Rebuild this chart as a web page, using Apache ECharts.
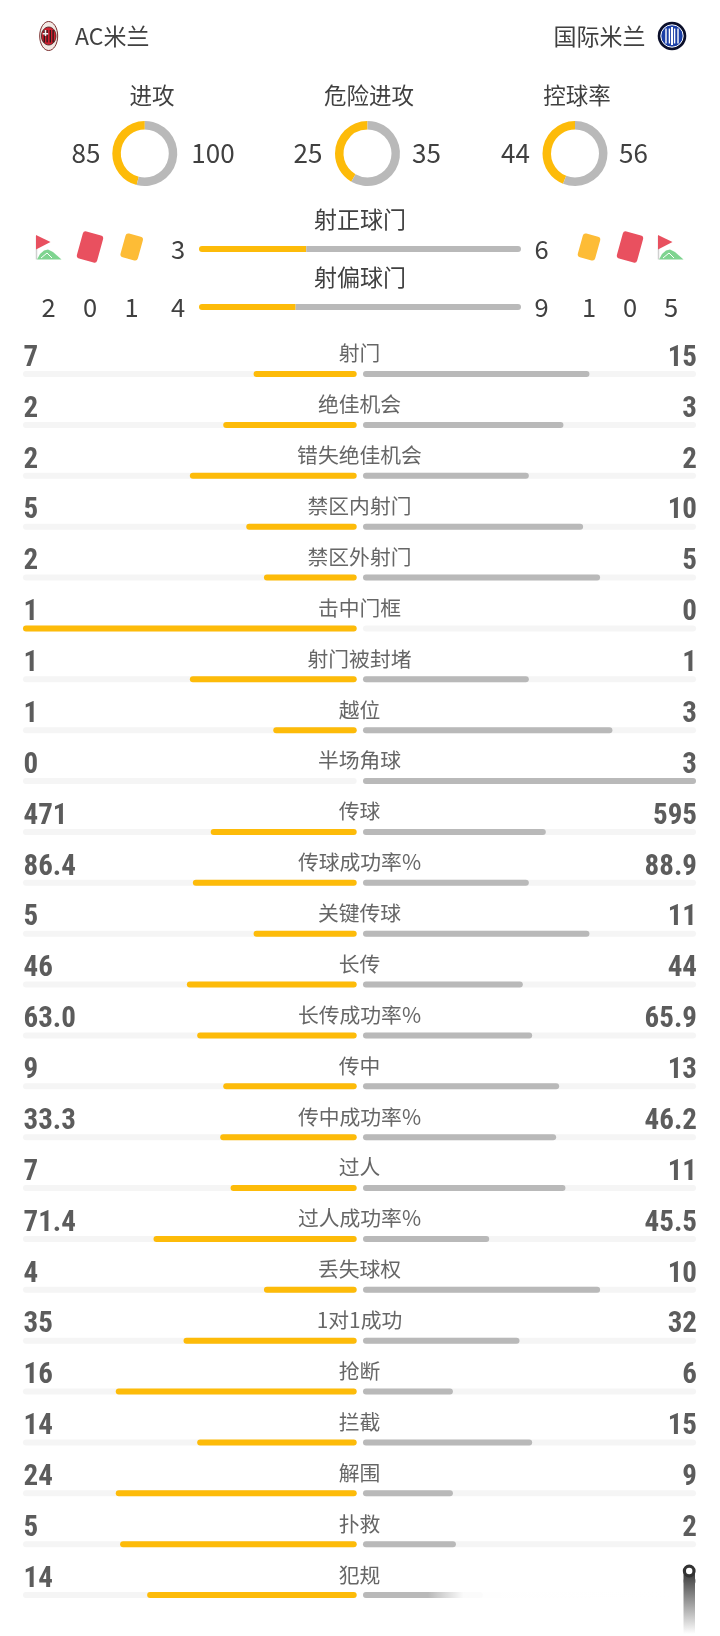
<!DOCTYPE html>
<html><head><meta charset="utf-8">
<style>html,body{margin:0;padding:0;background:#fff}#c{width:720px;height:1636px}</style>
<script src="https://cdn.jsdelivr.net/npm/echarts@6/dist/echarts.min.js"></script>
</head><body><div id="c"></div>
<script>
const teams = ['AC米兰', '国际米兰'];
const statNames = ['射门','绝佳机会','错失绝佳机会','禁区内射门','禁区外射门','击中门框','射门被封堵','越位','半场角球','传球','传球成功率%','关键传球','长传','长传成功率%','传中','传中成功率%','过人','过人成功率%','丢失球权','1对1成功','抢断','拦截','解围','扑救','犯规'];
const homeLabels = ['7','2','2','5','2','1','1','1','0','471','86.4','5','46','63.0','9','33.3','7','71.4','4','35','16','14','24','5','14'];
const awayLabels = ['15','3','2','10','5','0','1','3','3','595','88.9','11','44','65.9','13','46.2','11','45.5','10','32','6','15','9','2','8'];
const homeBar = [.309,.400,.500,.331,.278,1,.500,.250,0,.4375,.491,.309,.509,.478,.400,.409,.378,.609,.278,.519,.722,.478,.722,.709,.628];
const awayBar = [.680,.602,.498,.661,.712,0,.498,.749,1,.549,.498,.680,.480,.508,.589,.580,.608,.379,.712,.470,.270,.508,.270,.279,.360];
const donutNames = ['进攻','危险进攻','控球率'];
const donutHome = [85,25,44];
const donutAway = [100,35,56];
const shotNames = ['射正球门','射偏球门'];
const shotHome = [3,4];
const shotAway = [6,9];
const shotHomeBar = [.333,.300];
const shotAwayBar = [.667,.700];
const cornerHome = 2, redHome = 0, yellowHome = 1;
const yellowAway = 1, redAway = 0, cornerAway = 5;

const YELLOW='#FDBB09', GREY='#B9B9B9', TRACK='#F5F5F5', TEXT='#404040';
const CJK='"Noto Sans CJK SC","Noto Sans",sans-serif';
const NUM='"Liberation Sans Narrow","Roboto Condensed",sans-serif';
const idx = statNames.map((_,i)=>i);

const PITCH=50.88, ROW0=374, ROWS=statNames.length;
const gridTop=ROW0-PITCH/2, gridH=PITCH*ROWS;
const catAxis=(gi)=>({type:'category',gridIndex:gi,data:idx,inverse:true,show:false});
const valAxis=(gi,inv)=>({type:'value',gridIndex:gi,min:0,max:1,inverse:!!inv,show:false});
const hiddenText=(name,gi,lab,xv,align,font,size,weight,color)=>({
  type:'scatter',name,xAxisIndex:gi,yAxisIndex:gi,symbolSize:1,silent:true,z:3,
  itemStyle:{color:'rgba(0,0,0,0)'},
  data:lab.map((t,i)=>({value:[xv,i],txt:t})),
  label:{show:true,position:'inside',align,verticalAlign:'middle',formatter:p=>p.data.txt,
    fontFamily:font,fontSize:size,fontWeight:weight,color:color||TEXT}
});
const track=(color,data,gi)=>({type:'bar',xAxisIndex:gi,yAxisIndex:gi,barWidth:6,silent:true,data,
  itemStyle:{color,borderRadius:3},showBackground:true,backgroundStyle:{color:TRACK,borderRadius:3}});

const pies=donutNames.map((n,i)=>({type:'pie',silent:true,center:[[144.8,367.5,575][i],153.5],radius:[24,32.5],
  startAngle:90,clockwise:false,label:{show:false},labelLine:{show:false},
  data:[{value:donutHome[i],itemStyle:{color:YELLOW}},{value:donutAway[i],itemStyle:{color:GREY}}]}));

const text=(t,x,y,size,align,extra)=>Object.assign({type:'text',x,y,z:5,silent:true,
  style:{text:String(t),fontSize:size,fontFamily:CJK,fill:TEXT,align:align||'center',verticalAlign:'middle'}},extra||{});
const g=[];
g.push(text(teams[0],75,36,23,'left'));
g.push(text(teams[1],645.5,36,23,'right'));
[152,369,577].forEach((x,i)=>{
  g.push(text(donutNames[i],x,95,22.5));
  g.push(text(donutHome[i],[86,308,515.5][i],153,26));
  g.push(text(donutAway[i],[213,426.5,633.5][i],153,26));
});
shotNames.forEach((n,i)=>g.push(text(n,360,[219.5,277.5][i],23)));
[[shotHome[0],178,249],[shotAway[0],541.6,249],[shotHome[1],178,307],[shotAway[1],541.6,307],
 [cornerHome,48.7,307],[redHome,90,307],[yellowHome,131.7,307],
 [yellowAway,589,307],[redAway,630,307],[cornerAway,671,307]]
 .forEach(a=>g.push(text(a[0],a[1],a[2],25.5)));
// cards and corner flags
const card=(cx,cy,w,h,fill)=>({type:'rect',x:cx,y:cy,rotation:-0.27,z:5,silent:true,
  shape:{x:-w/2,y:-h/2,width:w,height:h,r:3},style:{fill}});
const flag=(dx)=>[
 {type:'line',z:5,silent:true,shape:{x1:36.5+dx,y1:236,x2:36.5+dx,y2:259.5},style:{stroke:'#d0d0d0',lineWidth:1.5}},
 {type:'polygon',z:6,silent:true,shape:{points:[[36+dx,235],[50.5+dx,242],[36+dx,249.5]]},style:{fill:'#E8505F'}},
 {type:'polygon',z:6,silent:true,shape:{points:[[37+dx,259.5],[40+dx,254],[44+dx,250.5],[48+dx,249.5],[53+dx,252],[61.5+dx,259.5]]},style:{fill:'#7FD490'}},
 {type:'line',z:7,silent:true,shape:{x1:41+dx,y1:258,x2:47+dx,y2:253},style:{stroke:'#ffffff',lineWidth:1}},
 {type:'line',z:7,silent:true,shape:{x1:47+dx,y1:253,x2:52+dx,y2:258},style:{stroke:'#ffffff',lineWidth:1}}
];
g.push(...flag(0),...flag(622));
g.push(card(90,247,21,28,'#E9505F'),card(131.7,247,18,24.5,'#FDBC36'),card(589,247,18,24.5,'#FDBC36'),card(630,247,21,28,'#E9505F'));
// AC Milan badge
const mx=48.7,my=36;
g.push({type:'ellipse',z:5,silent:true,shape:{cx:mx,cy:my,rx:9,ry:14.5},style:{fill:'#f3e9e4',stroke:'#7a2f2f',lineWidth:1}});
g.push({type:'ellipse',z:5,silent:true,shape:{cx:mx,cy:my,rx:7.3,ry:9},style:{fill:'#D0202F',stroke:'#3a1a1a',lineWidth:.8}});
[-4.4,-1.6,1.6,4.4].forEach(d=>g.push({type:'rect',z:6,silent:true,shape:{x:mx+d-0.6,y:my-6,width:1.2,height:12.5},style:{fill:'#1a1a1a'}}));
g.push({type:'rect',z:7,silent:true,shape:{x:mx-6,y:my-3,width:5.5,height:1.5},style:{fill:'#f5f0f0'}});
g.push({type:'rect',z:7,silent:true,shape:{x:mx-4,y:my-6,width:1.5,height:6},style:{fill:'#f5f0f0'}});
// Inter badge
const ix=672,iy=36;
g.push({type:'circle',z:5,silent:true,shape:{cx:ix,cy:iy,r:14.3},style:{fill:'#0b0f2a'}});
g.push({type:'circle',z:5,silent:true,shape:{cx:ix,cy:iy,r:11.2},style:{fill:'#1B3FA6',stroke:'#ffffff',lineWidth:1}});
[-6,-2.6,2.6,6].forEach(d=>g.push({type:'rect',z:6,silent:true,shape:{x:ix+d-0.7,y:iy-7.5,width:1.4,height:15},style:{fill:'#ffffff'}}));
g.push({type:'rect',z:6,silent:true,shape:{x:ix-1,y:iy-9,width:2,height:18},style:{fill:'#ffffff'}});
// fade at the bottom right and scroll indicator
g.push({type:'rect',z:50,silent:true,shape:{x:428,y:1584,width:252,height:24},
  style:{fill:new echarts.graphic.LinearGradient(0,0,1,0,[{offset:0,color:'rgba(255,255,255,0)'},{offset:0.14,color:'rgba(255,255,255,0.94)'},{offset:0.8,color:'rgba(255,255,255,0.98)'},{offset:1,color:'#ffffff'}])}});
g.push({type:'rect',z:50,silent:true,shape:{x:680,y:1584,width:40,height:24},style:{fill:'#ffffff'}});
g.push({type:'rect',z:51,silent:true,shape:{x:683.5,y:1572,width:11.5,height:62},
  style:{fill:new echarts.graphic.LinearGradient(0,0,0,1,[{offset:0,color:'#3a3a3a'},{offset:1,color:'#ffffff'}])}});
g.push({type:'circle',z:52,silent:true,shape:{cx:689.2,cy:1571,r:4.8},style:{fill:'#ffffff',stroke:'#333333',lineWidth:3.2}});

const chart=echarts.init(document.getElementById('c'),null,{renderer:'canvas'});
chart.setOption({
  animation:false,backgroundColor:'#ffffff',
  grid:[
    {left:23,width:333.7,top:gridTop,height:gridH},
    {left:363,width:333,top:gridTop,height:gridH},
    {left:23.5,width:673.5,top:gridTop-15.5,height:gridH},
    {left:199,width:322,top:220,height:116},
    {left:23,width:673,top:gridTop-20.5,height:gridH}
  ],
  xAxis:[valAxis(0,true),valAxis(1),valAxis(2),valAxis(3),valAxis(4)],
  yAxis:[catAxis(0),catAxis(1),catAxis(2),
    {type:'category',gridIndex:3,data:shotNames,inverse:true,show:false},catAxis(4)],
  series:[
    track(YELLOW,homeBar,0),
    track(GREY,awayBar,1),
    hiddenText('home',2,homeLabels,0,'left',NUM,29,'bold','#333333'),
    hiddenText('away',2,awayLabels,1,'right',NUM,29,'bold','#333333'),
    hiddenText('name',4,statNames,0.5,'center',CJK,20.8,'normal'),
    {type:'bar',xAxisIndex:3,yAxisIndex:3,stack:'s',barWidth:6,silent:true,
      data:shotHomeBar,itemStyle:{color:YELLOW,borderRadius:[3,0,0,3]}},
    {type:'bar',xAxisIndex:3,yAxisIndex:3,stack:'s',barWidth:6,silent:true,
      data:shotAwayBar,itemStyle:{color:GREY,borderRadius:[0,3,3,0]}},
    ...pies
  ],
  graphic:g
});
</script></body></html>
